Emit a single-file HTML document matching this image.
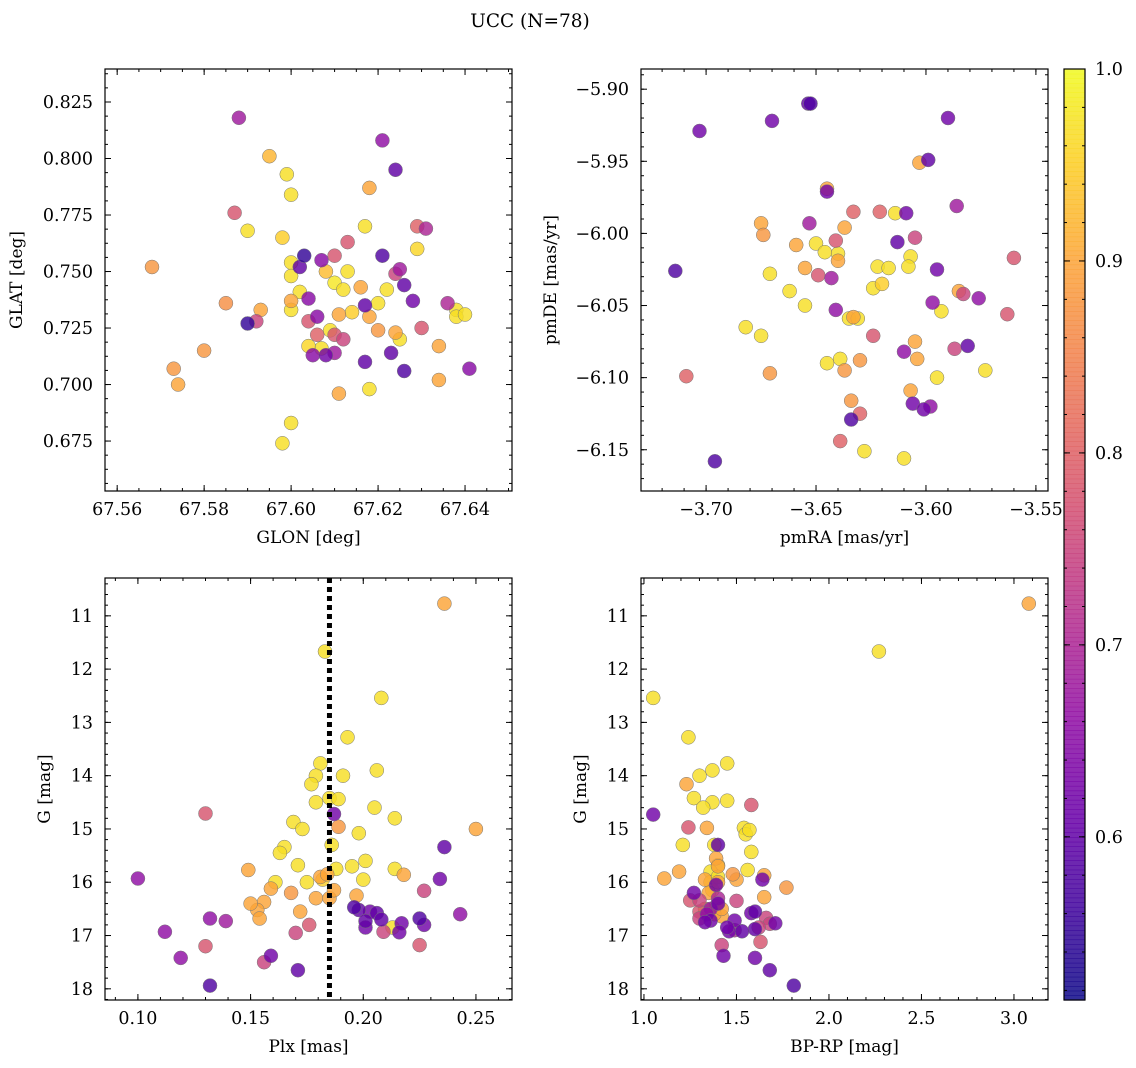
<!DOCTYPE html>
<html><head><meta charset="utf-8">
<style>
body{margin:0;background:#fff;}
svg{display:block;font-family:"DejaVu Serif","Liberation Serif",serif;}
</style></head>
<body>
<svg id="fig" width="1136" height="1068" viewBox="0 0 1136 1068">
<text x="530" y="27" font-size="18.5" text-anchor="middle">UCC (N=78)</text>
</svg>
<script>
// ---- Panel 1: GLON / GLAT ----
const glon = [67.588,67.595,67.599,67.600,67.587,67.590,67.598,67.568,67.600,67.603,67.602,67.600,67.608,67.607,67.610,67.613,67.618,67.617,67.621,67.624,67.629,67.631,67.629,67.621,67.625,67.624,67.626,67.613,67.616,67.612,67.610,67.600,67.604,67.600,67.593,67.585,67.592,67.590,67.604,67.606,67.609,67.610,67.606,67.612,67.611,67.604,67.607,67.605,67.608,67.610,67.617,67.618,67.620,67.624,67.625,67.630,67.628,67.638,67.638,67.634,67.636,67.640,67.626,67.634,67.641,67.617,67.611,67.618,67.600,67.598,67.573,67.574,67.580,67.623,67.622,67.614,67.620,67.602];
const glat = [0.818,0.801,0.793,0.784,0.776,0.768,0.765,0.752,0.754,0.757,0.752,0.748,0.750,0.755,0.757,0.763,0.787,0.770,0.808,0.795,0.770,0.769,0.760,0.757,0.751,0.749,0.744,0.750,0.743,0.742,0.745,0.737,0.738,0.733,0.733,0.736,0.728,0.727,0.728,0.730,0.724,0.722,0.722,0.720,0.731,0.717,0.716,0.713,0.713,0.714,0.735,0.730,0.724,0.723,0.720,0.725,0.737,0.733,0.730,0.717,0.736,0.731,0.706,0.702,0.707,0.710,0.696,0.698,0.683,0.674,0.707,0.700,0.715,0.714,0.742,0.732,0.736,0.741];
const prob1 = [0.68,0.92,0.97,0.97,0.78,0.97,0.95,0.88,0.97,0.55,0.6,0.97,0.93,0.65,0.78,0.78,0.9,0.97,0.66,0.6,0.8,0.7,0.96,0.58,0.68,0.75,0.6,0.97,0.9,0.97,0.98,0.9,0.65,0.97,0.9,0.87,0.75,0.55,0.78,0.65,0.97,0.78,0.8,0.75,0.9,0.96,0.97,0.65,0.62,0.68,0.6,0.9,0.88,0.9,0.97,0.78,0.62,0.97,0.97,0.9,0.7,0.97,0.58,0.9,0.65,0.6,0.9,0.97,0.97,0.97,0.88,0.9,0.88,0.6,0.97,0.95,0.97,0.97];
// ---- Panel 2: pmRA / pmDE ----
const pmra = [-3.6535,-3.6525,-3.703,-3.670,-3.590,-3.599,-3.603,-3.645,-3.645,-3.586,-3.653,-3.633,-3.621,-3.609,-3.614,-3.637,-3.675,-3.674,-3.650,-3.613,-3.605,-3.641,-3.640,-3.607,-3.608,-3.640,-3.622,-3.617,-3.655,-3.649,-3.643,-3.671,-3.714,-3.595,-3.655,-3.624,-3.597,-3.583,-3.576,-3.560,-3.563,-3.593,-3.641,-3.635,-3.631,-3.682,-3.675,-3.624,-3.605,-3.581,-3.587,-3.610,-3.604,-3.630,-3.639,-3.637,-3.573,-3.671,-3.709,-3.595,-3.607,-3.634,-3.606,-3.601,-3.598,-3.630,-3.634,-3.639,-3.628,-3.610,-3.696,-3.585,-3.633,-3.646,-3.662,-3.659,-3.645,-3.620];
const pmde = [-5.910,-5.910,-5.929,-5.922,-5.920,-5.949,-5.951,-5.969,-5.971,-5.981,-5.993,-5.985,-5.985,-5.986,-5.986,-5.996,-5.993,-6.001,-6.007,-6.006,-6.003,-6.005,-6.014,-6.016,-6.023,-6.019,-6.023,-6.024,-6.024,-6.029,-6.031,-6.028,-6.026,-6.025,-6.050,-6.038,-6.048,-6.042,-6.045,-6.017,-6.056,-6.054,-6.053,-6.059,-6.059,-6.065,-6.071,-6.071,-6.075,-6.078,-6.080,-6.082,-6.087,-6.088,-6.087,-6.095,-6.095,-6.097,-6.099,-6.100,-6.109,-6.116,-6.118,-6.122,-6.120,-6.125,-6.129,-6.144,-6.151,-6.156,-6.158,-6.040,-6.058,-6.013,-6.040,-6.008,-6.090,-6.035];
const prob2 = [0.6,0.58,0.62,0.62,0.62,0.6,0.9,0.9,0.62,0.68,0.68,0.8,0.8,0.62,0.97,0.9,0.9,0.88,0.97,0.6,0.75,0.78,0.97,0.97,0.97,0.9,0.97,0.97,0.9,0.78,0.68,0.97,0.58,0.62,0.97,0.97,0.66,0.75,0.66,0.78,0.78,0.97,0.66,0.97,0.97,0.97,0.97,0.78,0.9,0.6,0.75,0.66,0.9,0.88,0.97,0.88,0.97,0.88,0.8,0.97,0.9,0.88,0.62,0.62,0.66,0.8,0.58,0.8,0.97,0.97,0.58,0.9,0.9,0.97,0.97,0.9,0.97,0.95];
// ---- Panel 3: Plx / G ----
const plx = [0.236,0.183,0.208,0.193,0.181,0.206,0.191,0.179,0.177,0.185,0.189,0.179,0.187,0.130,0.205,0.214,0.189,0.169,0.173,0.198,0.250,0.236,0.186,0.165,0.201,0.195,0.171,0.214,0.218,0.149,0.188,0.181,0.200,0.161,0.175,0.100,0.159,0.234,0.227,0.179,0.197,0.156,0.153,0.172,0.198,0.206,0.208,0.201,0.217,0.225,0.243,0.227,0.132,0.139,0.154,0.176,0.209,0.170,0.201,0.216,0.112,0.130,0.225,0.119,0.159,0.156,0.171,0.132,0.184,0.196,0.185,0.163,0.168,0.150,0.203,0.187,0.213,0.182];
const gmag3 = [10.77,11.67,12.54,13.28,13.77,13.90,14.00,14.0,14.16,14.42,14.44,14.5,14.72,14.71,14.6,14.8,14.96,14.87,15.0,15.08,15.0,15.34,15.3,15.34,15.6,15.7,15.68,15.75,15.86,15.77,15.75,15.9,15.95,16.0,16.0,15.93,16.12,15.94,16.16,16.3,16.25,16.37,16.52,16.55,16.52,16.58,16.7,16.73,16.77,16.68,16.6,16.8,16.68,16.73,16.68,16.8,16.93,16.95,16.85,16.94,16.93,17.2,17.18,17.42,17.38,17.5,17.65,17.94,15.85,16.47,16.3,15.45,16.2,16.4,16.55,16.15,16.85,15.95];
const prob3 = [0.9,0.97,0.97,0.97,0.97,0.97,0.97,0.97,0.97,0.97,0.97,0.97,0.62,0.78,0.97,0.97,0.88,0.97,0.97,0.97,0.9,0.6,0.97,0.97,0.97,0.97,0.97,0.97,0.9,0.9,0.97,0.9,0.97,0.97,0.97,0.66,0.9,0.62,0.75,0.9,0.9,0.9,0.9,0.9,0.6,0.6,0.6,0.6,0.62,0.58,0.66,0.62,0.66,0.68,0.9,0.78,0.75,0.75,0.62,0.62,0.66,0.78,0.78,0.66,0.62,0.75,0.6,0.58,0.9,0.58,0.9,0.97,0.88,0.9,0.62,0.9,0.97,0.95];
// ---- Panel 4: BP-RP / G ----
const bprp = [3.08,2.27,1.05,1.24,1.45,1.37,1.30,1.23,1.27,1.45,1.37,1.32,1.58,1.05,1.24,1.34,1.54,1.55,1.40,1.21,1.58,1.39,1.40,1.40,1.56,1.11,1.19,1.36,1.33,1.50,1.64,1.65,1.40,1.77,1.27,1.65,1.30,1.40,1.25,1.30,1.36,1.42,1.49,1.58,1.66,1.68,1.71,1.60,1.53,1.46,1.63,1.42,1.60,1.43,1.68,1.81,1.39,1.36,1.30,1.38,1.33,1.33,1.48,1.40,1.36,1.50,1.45,1.38,1.35,1.62,1.57,1.34,1.40,1.60,1.42,1.49,1.39,1.37];
const gmag4 = [10.77,11.67,12.54,13.28,13.77,13.90,14.00,14.16,14.42,14.47,14.5,14.6,14.55,14.73,14.97,14.98,14.98,15.1,15.3,15.3,15.43,15.55,15.7,15.68,15.77,15.93,15.8,15.8,15.95,15.95,15.95,15.87,16.0,16.1,16.2,16.28,16.34,16.4,16.34,16.68,16.72,16.64,16.72,16.58,16.67,16.78,16.77,16.88,16.92,16.92,17.12,17.18,17.42,17.38,17.65,17.94,16.05,16.5,16.55,16.6,16.75,16.5,15.85,16.3,16.0,16.35,16.85,15.3,16.2,16.85,15.02,16.6,15.9,16.55,16.5,16.9,16.45,16.15];
const prob4 = [0.9,0.97,0.97,0.97,0.97,0.97,0.97,0.9,0.97,0.97,0.97,0.97,0.78,0.62,0.78,0.9,0.97,0.97,0.6,0.97,0.97,0.9,0.9,0.97,0.97,0.9,0.9,0.97,0.9,0.9,0.62,0.9,0.9,0.88,0.62,0.9,0.75,0.62,0.78,0.75,0.62,0.9,0.62,0.62,0.75,0.75,0.62,0.6,0.6,0.62,0.78,0.75,0.62,0.62,0.6,0.58,0.62,0.66,0.78,0.9,0.62,0.9,0.88,0.7,0.97,0.75,0.62,0.97,0.9,0.75,0.97,0.66,0.97,0.6,0.9,0.7,0.97,0.97];
// ---- Colorbar ----
const cbarTicks = [0.6,0.7,0.8,0.9,1.0];
const plxCut = [0.185];

const VMIN=0.515, VMAX=1.0;
const NS="http://www.w3.org/2000/svg";
const svg=document.getElementById('fig');
const stops=[[13,8,135],[65,4,157],[106,0,168],[143,13,164],[177,42,144],[204,71,120],[225,100,98],[242,132,75],[252,166,54],[252,206,37],[240,249,33]];
function plasma(v){let t=Math.max(0,Math.min(1,(v-VMIN)/(VMAX-VMIN)))*10;let i=Math.min(9,Math.floor(t)),f=t-i;const a=stops[i],b=stops[i+1];return `rgb(${a.map((c,k)=>Math.round(c+(b[k]-c)*f)).join(',')})`;}
function el(tag,attrs,parent){const e=document.createElementNS(NS,tag);for(const k in attrs)e.setAttribute(k,attrs[k]);(parent||svg).appendChild(e);return e;}
function fmt(v,d){return (v<0?'\u2212':'')+Math.abs(v).toFixed(d);}
const TFS=17.5;

function panel(cfg){
  const {L,T,W,H,x0,x1,y0,y1,inv,xt,yt,xd,yd,xm,ym,xl,yl,xs,ys,cs,name}=cfg;
  const g=el('g',{});
  
  
  const sx=v=>L+(v-x0)/(x1-x0)*W;
  const sy=v=>inv? T+(v-y0)/(y1-y0)*H : T+H-(v-y0)/(y1-y0)*H;
  const pts=el('g',{},g);
  
  
  const idx=xs.map((_,i)=>i).sort((a,b)=>cs[b]-cs[a]);
  idx.forEach(i=>{
    const c=el('circle',{cx:sx(xs[i]).toFixed(1),cy:sy(ys[i]).toFixed(1),r:7,fill:plasma(cs[i]),'fill-opacity':0.82,stroke:'#777','stroke-width':0.5},pts);
    
    
  });
  if(cfg.extra)cfg.extra(g,sx,sy);
  const tk=el('g',{stroke:'#000','stroke-width':1},g);
  for(let v=Math.ceil(x0/xm)*xm;v<=x1;v+=xm){const X=sx(v);el('line',{x1:X,x2:X,y1:T+H,y2:T+H-3},tk);el('line',{x1:X,x2:X,y1:T,y2:T+3},tk);}
  for(let v=Math.ceil(y0/ym)*ym;v<=y1;v+=ym){const Y=sy(v);el('line',{x1:L,x2:L+3,y1:Y,y2:Y},tk);el('line',{x1:L+W,x2:L+W-3,y1:Y,y2:Y},tk);}
  xt.forEach(v=>{const X=sx(v);el('line',{x1:X,x2:X,y1:T+H,y2:T+H-6},tk);el('line',{x1:X,x2:X,y1:T,y2:T+6},tk);
    const t=el('text',{x:X,y:T+H+24,'font-size':TFS,'text-anchor':'middle'},g);t.textContent=fmt(v,xd);
    });
  yt.forEach(v=>{const Y=sy(v);el('line',{x1:L,x2:L+6,y1:Y,y2:Y},tk);el('line',{x1:L+W,x2:L+W-6,y1:Y,y2:Y},tk);
    const t=el('text',{x:L-12,y:Y+6,'font-size':TFS,'text-anchor':'end'},g);t.textContent=fmt(v,yd);
    });
  el('rect',{x:L,y:T,width:W,height:H,fill:'none',stroke:'#000','stroke-width':1.2},g);
  const xlab=el('text',{x:L+W/2,y:T+H+52,'font-size':17,'text-anchor':'middle'},g);xlab.textContent=xl;
  
  const yx=cfg.ylx;
  const ylab=el('text',{x:yx,y:T+H/2,'font-size':17,'text-anchor':'middle',transform:`rotate(-90 ${yx} ${T+H/2})`},g);ylab.textContent=yl;
  
}
const r=(a,b,s)=>{const o=[];for(let v=a;v<=b+1e-9;v+=s)o.push(+v.toFixed(6));return o;};
panel({name:'glon-glat',L:105,T:69,W:407,H:422,x0:67.5572,x1:67.6508,y0:0.6529,y1:0.8396,xt:r(67.56,67.64,0.02),yt:r(0.675,0.825,0.025),xd:2,yd:3,xm:0.005,ym:0.00625,xl:'GLON [deg]',yl:'GLAT [deg]',xs:glon,ys:glat,cs:prob1,ylx:22});
panel({name:'pm',L:641,T:69,W:407,H:422,x0:-3.7296,x1:-3.5445,y0:-6.1786,y1:-5.886,xt:[-3.70,-3.65,-3.60,-3.55],yt:[-6.15,-6.10,-6.05,-6.00,-5.95,-5.90],xd:2,yd:2,xm:0.01,ym:0.01,xl:'pmRA [mas/yr]',yl:'pmDE [mas/yr]',xs:pmra,ys:pmde,cs:prob2,ylx:556});
panel({name:'plx-g',L:105,T:578,W:407,H:422,x0:0.0854,x1:0.2660,y0:10.29,y1:18.21,inv:true,xt:[0.10,0.15,0.20,0.25],yt:r(11,18,1),xd:2,yd:0,xm:0.01,ym:0.2,xl:'Plx [mas]',yl:'G [mag]',xs:plx,ys:gmag3,cs:prob3,ylx:50,
  extra:(g,sx,sy)=>{plxCut.forEach(v=>{const l=el('line',{x1:sx(v),x2:sx(v),y1:578,y2:1000,stroke:'#000','stroke-width':5,'stroke-dasharray':'5,4'},g);});}});
panel({name:'cmd',L:641,T:578,W:407,H:422,x0:0.984,x1:3.184,y0:10.29,y1:18.21,inv:true,xt:[1.0,1.5,2.0,2.5,3.0],yt:r(11,18,1),xd:1,yd:0,xm:0.1,ym:0.2,xl:'BP-RP [mag]',yl:'G [mag]',xs:bprp,ys:gmag4,cs:prob4,ylx:586});
(function(){
  const X=1064,W=21,T=69,B=1000;
  const cb=el('g',{});
  
  
  const n=200;
  for(let i=0;i<n;i++){const v=VMIN+(VMAX-VMIN)*(i+0.5)/n;const y=B-(B-T)*(i+1)/n;el('rect',{x:X,y:y,width:W,height:(B-T)/n+0.6,fill:plasma(v),'fill-opacity':0.85},cb);}
  el('rect',{x:X,y:T,width:W,height:B-T,fill:'none',stroke:'#000','stroke-width':1.2},cb);
  const sy=v=>B-(v-VMIN)/(VMAX-VMIN)*(B-T);
  for(let v=0.52;v<=1.0001;v+=0.02){const Y=sy(v);el('line',{x1:X+W,x2:X+W-3,y1:Y,y2:Y,stroke:'#000'},cb);el('line',{x1:X,x2:X+3,y1:Y,y2:Y,stroke:'#000'},cb);}
  cbarTicks.forEach(v=>{const Y=sy(v);el('line',{x1:X+W,x2:X+W-6,y1:Y,y2:Y,stroke:'#000'},cb);el('line',{x1:X,x2:X+6,y1:Y,y2:Y,stroke:'#000'},cb);
    const t=el('text',{x:X+W+10,y:Y+6,'font-size':TFS},cb);t.textContent=v.toFixed(1);
    });
})();
</script>
</body></html>
